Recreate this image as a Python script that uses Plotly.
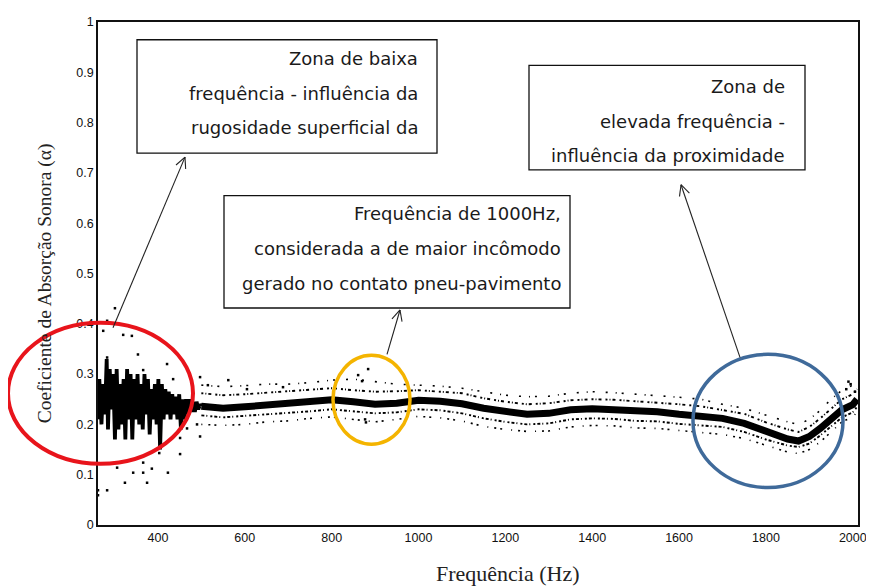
import math
import plotly.graph_objects as go

# ---------------- data ----------------
# low-frequency region: strongly oscillating measurement (Hz, alpha)
freq_low = [262, 265, 270, 274, 278, 282, 285, 289, 293, 297, 301, 305, 309, 313, 317,
            321, 325, 329, 333, 337, 341, 345, 349, 353, 357, 361, 365, 369, 373, 377,
            381, 385, 389, 393, 397, 401, 405, 409, 413, 417, 421, 425, 429, 433, 437,
            441, 445, 449, 453, 457, 461, 465, 469, 473, 477, 481, 485, 489, 493, 497, 500]
alpha_low = [0.21, 0.29, 0.20, 0.28, 0.22, 0.33, 0.19, 0.31, 0.23, 0.30, 0.17, 0.31, 0.19, 0.28, 0.20,
             0.29, 0.17, 0.31, 0.21, 0.30, 0.17, 0.29, 0.21, 0.30, 0.20, 0.28, 0.19, 0.30, 0.22, 0.29,
             0.18, 0.27, 0.21, 0.28, 0.20, 0.29, 0.15, 0.28, 0.21, 0.27, 0.22, 0.265, 0.21, 0.26, 0.22,
             0.255, 0.21, 0.26, 0.19, 0.25, 0.21, 0.25, 0.22, 0.25, 0.225, 0.245, 0.225, 0.245, 0.23, 0.24, 0.236]

# main band and scatter cloud, 500-2010 Hz
freq_main = [500, 550, 600, 650, 700, 750, 800, 850, 900, 950, 1000, 1050, 1100, 1150, 1200,
             1250, 1300, 1350, 1400, 1450, 1500, 1550, 1600, 1650, 1700, 1750, 1800, 1850,
             1875, 1900, 1925, 1950, 1975, 2000, 2010]
alpha_main = [0.236, 0.232, 0.235, 0.238, 0.240, 0.244, 0.249, 0.245, 0.240, 0.242, 0.248, 0.246,
              0.241, 0.232, 0.225, 0.220, 0.222, 0.229, 0.231, 0.230, 0.226, 0.225, 0.220, 0.216,
              0.212, 0.202, 0.186, 0.171, 0.167, 0.176, 0.192, 0.212, 0.229, 0.239, 0.250]
alpha_upper_inner = [0.262, 0.258, 0.26, 0.263, 0.265, 0.268, 0.272, 0.268, 0.265, 0.266, 0.268, 0.265,
                     0.262, 0.252, 0.245, 0.24, 0.242, 0.248, 0.25, 0.249, 0.246, 0.244, 0.24, 0.236,
                     0.228, 0.221, 0.204, 0.19, 0.185, 0.195, 0.212, 0.232, 0.25, 0.26, 0.27]
alpha_upper_outer = [0.278, 0.275, 0.277, 0.28, 0.28, 0.283, 0.288, 0.29, 0.285, 0.28, 0.278, 0.276,
                     0.272, 0.265, 0.258, 0.255, 0.256, 0.262, 0.265, 0.263, 0.26, 0.258, 0.254, 0.25,
                     0.24, 0.232, 0.218, 0.205, 0.2, 0.21, 0.228, 0.25, 0.268, 0.278, 0.285]
alpha_lower_inner = [0.218, 0.214, 0.217, 0.22, 0.222, 0.226, 0.23, 0.226, 0.222, 0.224, 0.23, 0.228,
                     0.222, 0.212, 0.205, 0.2, 0.202, 0.21, 0.212, 0.211, 0.207, 0.206, 0.201, 0.198,
                     0.195, 0.185, 0.17, 0.158, 0.155, 0.162, 0.178, 0.196, 0.214, 0.224, 0.235]
alpha_lower_outer = [0.2, 0.198, 0.2, 0.205, 0.207, 0.212, 0.215, 0.21, 0.205, 0.21, 0.216, 0.213,
                     0.207, 0.196, 0.19, 0.186, 0.187, 0.195, 0.198, 0.197, 0.193, 0.192, 0.188, 0.185,
                     0.18, 0.172, 0.158, 0.145, 0.142, 0.15, 0.165, 0.185, 0.205, 0.215, 0.225]

# isolated scattered points
freq_pts = [301, 283, 274, 320, 340, 354, 283, 421, 366, 435, 497, 562, 451, 467, 497, 306, 343,
            366, 386, 324, 375, 423, 262, 283, 262, 451, 403, 366, 515, 605, 688, 490, 884, 861,
            870, 877, 879, 1985, 1995, 2005, 1990]
alpha_pts = [0.431, 0.406, 0.386, 0.378, 0.376, 0.339, 0.333, 0.32, 0.308, 0.29, 0.294, 0.288, 0.173,
             0.192, 0.176, 0.114, 0.104, 0.104, 0.112, 0.084, 0.084, 0.104, 0.069, 0.069, 0.059,
             0.141, 0.143, 0.124, 0.278, 0.27, 0.274, 0.2, 0.31, 0.298, 0.286, 0.21, 0.204,
             0.27, 0.28, 0.265, 0.285]

x_ticks = [400, 600, 800, 1000, 1200, 1400, 1600, 1800, 2000]
y_ticks = [0, 0.1, 0.2, 0.3, 0.4, 0.5, 0.6, 0.7, 0.8, 0.9, 1]
y_ticktext = ["0", "0.1", "0.2", "0.3", "0.4", "0.5", "0.6", "0.7", "0.8", "0.9", "1"]

box_texts = [
    ["Zona de baixa", "frequência - influência da", "rugosidade superficial da"],
    ["Frequência de 1000Hz,", "considerada a de maior incômodo", "gerado no contato pneu-pavimento"],
    ["Zona de", "elevada frequência -", "influência da proximidade"],
]
x_title = "Frequência (Hz)"
y_title = "Coeficiente de Absorção Sonora (α)"

# ---------------- layout geometry (window pixels) ----------------
OFF = 8                      # page body margin of the html page
W, H = 874 - OFF, 586 - OFF  # figure size
L, R, T, B = 98, 858, 15, 525  # plot area in window pixels


def px(xp):
    return (xp - L) / (R - L)


def py(yp):
    return (B - yp) / (B - T)


fig = go.Figure()

for arr, dash, w in [(alpha_upper_outer, "2px,8px,1px,5px,2px,11px", 1.6),
                     (alpha_lower_outer, "1px,6px,2px,4px,2px,9px", 1.6),
                     (alpha_upper_inner, "2px,2px,1px,2px,3px,4px", 1.9),
                     (alpha_lower_inner, "3px,2px,1px,3px,2px,2px", 1.9)]:
    fig.add_trace(go.Scatter(x=freq_main, y=arr, mode="lines",
                             line=dict(color="black", width=w, dash=dash), hoverinfo="skip"))

fig.add_trace(go.Scatter(x=freq_main, y=alpha_main, mode="lines",
                         line=dict(color="black", width=7), hoverinfo="skip"))
fig.add_trace(go.Scatter(x=freq_low, y=alpha_low, mode="lines",
                         line=dict(color="black", width=3.8), hoverinfo="skip"))
fig.add_trace(go.Scatter(x=freq_pts, y=alpha_pts, mode="markers",
                         marker=dict(symbol="square", size=2.5, color="black"), hoverinfo="skip"))

shapes = []
annotations = []

# ellipses
for (x0, y0, x1, y1, col, w) in [(8, 320, 193, 463, "#e8141b", 4),
                                 (333, 353, 410, 443, "#f4b400", 3.5),
                                 (693, 352, 843, 487, "#3f6a9a", 3.5)]:
    shapes.append(dict(type="circle", xref="paper", yref="paper",
                       x0=px(x0), x1=px(x1), y0=py(y1), y1=py(y0),
                       line=dict(color=col, width=w), layer="above"))

# arrows (line + open V head)
for (tx, ty, hx, hy) in [(113, 325, 185, 152), (387, 352, 400, 307), (740, 355, 681, 180)]:
    shapes.append(dict(type="line", xref="paper", yref="paper",
                       x0=px(tx), y0=py(ty), x1=px(hx), y1=py(hy),
                       line=dict(color="#222222", width=1.1), layer="above"))
    ang = math.atan2(ty - hy, tx - hx)
    for d in (0.45, -0.45):
        ex = hx + 12 * math.cos(ang + d)
        ey = hy + 12 * math.sin(ang + d)
        shapes.append(dict(type="line", xref="paper", yref="paper",
                           x0=px(hx), y0=py(hy), x1=px(ex), y1=py(ey),
                           line=dict(color="#222222", width=1.1), layer="above"))

# text boxes
boxes = [(137, 33, 437, 148, 420, [52, 87, 122]),
         (224, 191, 570, 305, 563, [209, 245, 280]),
         (529, 59, 805, 165, 787, [80, 116, 150])]
for (x0, y0, x1, y1, tr, ys), lines in zip(boxes, box_texts):
    shapes.append(dict(type="rect", xref="paper", yref="paper",
                       x0=px(x0), x1=px(x1), y0=py(y1), y1=py(y0),
                       line=dict(color="#111111", width=1.3), fillcolor="white", layer="above"))
    for yy, txt in zip(ys, lines):
        annotations.append(dict(xref="paper", yref="paper", x=px(tr), y=py(yy),
                                xanchor="right", yanchor="middle", text=txt, showarrow=False,
                                font=dict(family="DejaVu Sans", size=18, color="#1a1a1a")))

# axis titles
annotations.append(dict(xref="paper", yref="paper", x=px(508), y=py(574), text=x_title,
                        showarrow=False, xanchor="center", yanchor="middle",
                        font=dict(family="Liberation Serif", size=22, color="#222222")))
annotations.append(dict(xref="paper", yref="paper", x=px(45), y=py(280), text=y_title,
                        showarrow=False, xanchor="center", yanchor="middle", textangle=-90,
                        font=dict(family="Liberation Serif", size=19.5, color="#222222")))

fig.update_layout(
    width=W, height=H,
    margin=dict(l=L - OFF, r=(W + OFF) - R, t=T - OFF, b=(H + OFF) - B),
    paper_bgcolor="white", plot_bgcolor="white",
    showlegend=False,
    shapes=shapes, annotations=annotations,
    xaxis=dict(range=[262, 2012], tickvals=x_ticks, showgrid=False, zeroline=False,
               showline=True, mirror=True, linecolor="#111111", linewidth=1.5, ticks="",
               tickfont=dict(family="Liberation Sans", size=12.5, color="#111111")),
    yaxis=dict(range=[0, 1], tickvals=y_ticks, ticktext=y_ticktext, showgrid=False,
               zeroline=False, showline=True, mirror=True, linecolor="#111111", linewidth=1.5,
               ticks="", tickfont=dict(family="Liberation Sans", size=12.5, color="#111111")),
)

fig.write_html("out.html")
